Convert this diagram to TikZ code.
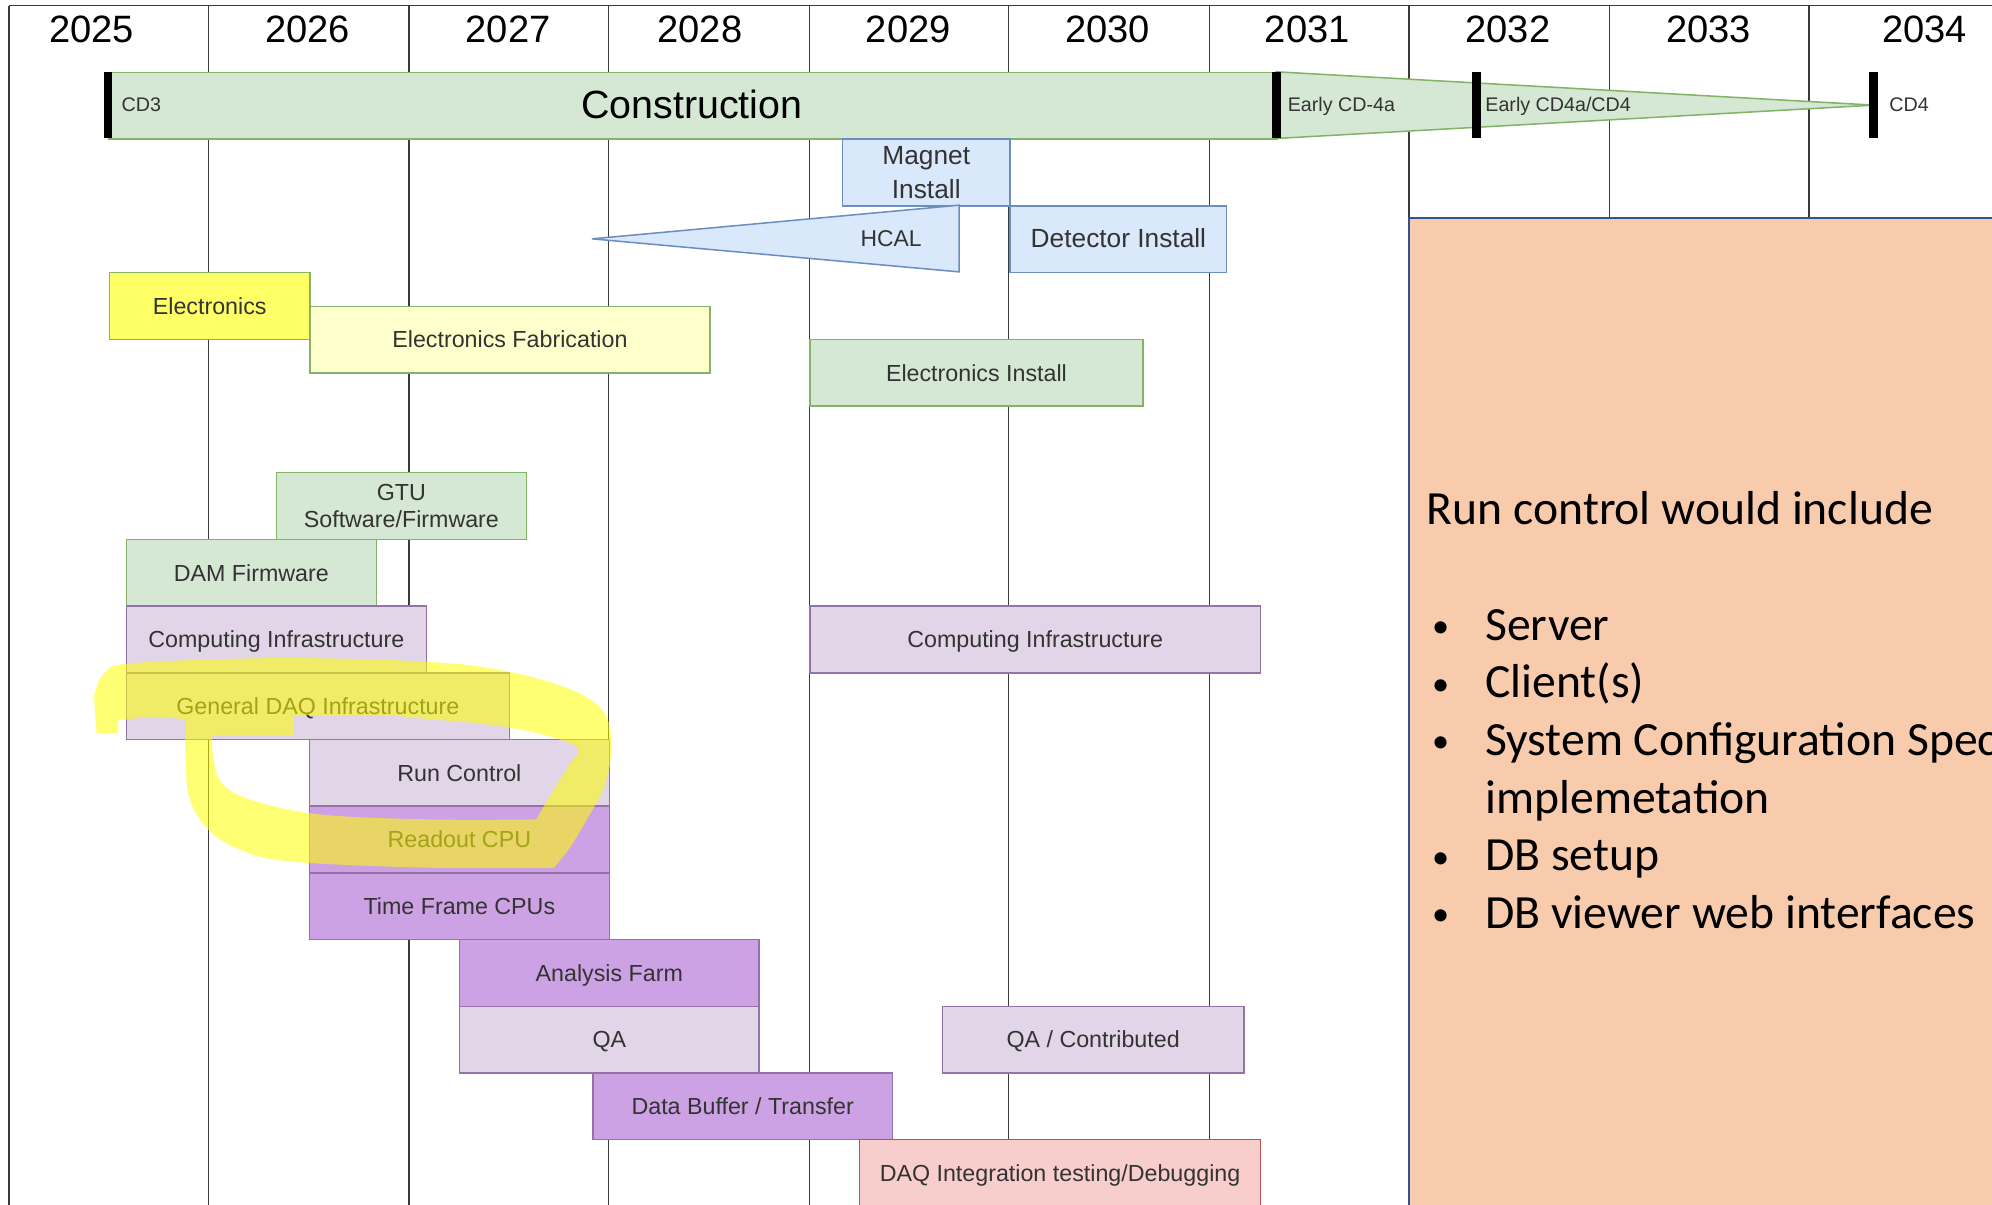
\documentclass[tikz,border=0pt]{standalone}
\usepackage{fontspec}
\setmainfont{Liberation Sans}
\newfontfamily\calfont{Carlito}
\definecolor{grnF}{HTML}{D5E8D4}
\definecolor{grnD}{HTML}{82B366}
\definecolor{bluF}{HTML}{DAE8FC}
\definecolor{bluD}{HTML}{6C8EBF}
\definecolor{yelF}{HTML}{FFFF66}
\definecolor{ylwF}{HTML}{FFFFCC}
\definecolor{purF}{HTML}{E1D5E7}
\definecolor{purD}{HTML}{9673A6}
\definecolor{vioF}{HTML}{CDA2E4}
\definecolor{redF}{HTML}{F8CECC}
\definecolor{redD}{HTML}{B85450}
\definecolor{orgF}{HTML}{F8CBAD}
\definecolor{orgD}{HTML}{2F5597}
\definecolor{txt}{HTML}{333333}
\definecolor{gridc}{HTML}{3A3A3A}
\definecolor{hlc}{HTML}{FFFF00}
\tikzset{
  boxbase/.style={draw, rectangle, anchor=north west, inner sep=0pt, line width=1.2pt,
    text=txt, align=center, font=\fontsize{18.3}{21}\selectfont, minimum height=52.5pt},
  task/.style={boxbase, text height=17.7pt, text depth=4.6pt},
  greenbox/.style={fill=grnF, draw=grnD},
  bluebox/.style={fill=bluF, draw=bluD},
  yelbox/.style={fill=yelF, draw=grnD},
  ylwbox/.style={fill=ylwF, draw=grnD},
  purbox/.style={fill=purF, draw=purD},
  viobox/.style={fill=vioF, draw=purD},
  redbox/.style={fill=redF, draw=redD},
  gridline/.style={draw=gridc, line width=1.1pt},
  yearlbl/.style={anchor=base, inner sep=0pt, text=black, font=\fontsize{30}{36}\selectfont},
  mslbl/.style={anchor=base west, inner sep=0pt, text=txt, font=\fontsize{15.5}{18}\selectfont},
  msmark/.style={fill=black, inner sep=0pt, minimum width=7pt, minimum height=52.5pt},
  notetxt/.style={anchor=base west, inner sep=0pt, text=black, font=\calfont\fontsize{37.5}{45}\selectfont},
  notebul/.style={anchor=base west, inner sep=0pt, text=black, font=\calfont\fontsize{27}{32}\selectfont},
  hl/.style={fill=hlc, fill opacity=0.55, even odd rule}
}
\begin{document}
\begin{tikzpicture}[x=1pt,y=-1pt]
\useasboundingbox (0,0) rectangle (1568,948.5);
\clip (0,0) rectangle (1568,948.5);
\fill[white] (0,0) rectangle (1568,948.5);
% grid
\draw[gridline] (7,4.5) -- (1568,4.5);
\draw[gridline] (7,4.5) -- (7,949);
\foreach \gx in {164,322,479,637,794,952,1109,1267,1424}{
  \draw[gridline] (\gx,4.5) -- (\gx,949);
}
% years
\node[yearlbl] (y2025) at (72,33.5) {2025};
\node[yearlbl] (y2026) at (242,33.5) {2026};
\node[yearlbl] (y2027) at (400,33.5) {2027};
\node[yearlbl] (y2028) at (551,33.5) {2028};
\node[yearlbl] (y2029) at (715,33.5) {2029};
\node[yearlbl] (y2030) at (872,33.5) {2030};
\node[yearlbl] (y2031) at (1029,33.5) {2031};
\node[yearlbl] (y2032) at (1187,33.5) {2032};
\node[yearlbl] (y2033) at (1345,33.5) {2033};
\node[yearlbl] (y2034) at (1515,33.5) {2034};
% construction bar
\node[boxbase, greenbox, minimum width=919.5pt] (constr) at (85,56.5) {};
\path[fill=grnF, draw=grnD, line width=1.2pt] (1004.5,56.5) -- (1475,82.75) -- (1004.5,109) -- cycle;
\node[msmark] (mcd3) at (85,82.75) {};
\node[msmark] (mcd4a) at (1004.5,82.75) {};
\node[msmark] (mcd4b) at (1162,82.75) {};
\node[msmark] (mcd4) at (1475,82.75) {};
\node[anchor=base, inner sep=0pt, text=black, font=\fontsize{31}{36}\selectfont] (constrlbl) at (544.5,93) {Construction};
\node[mslbl] (lcd3) at (95.5,87.5) {CD3};
\node[mslbl] (lcd4a) at (1013.5,87.5) {Early CD-4a};
\node[mslbl] (lcd4b) at (1169,87.5) {Early CD4a/CD4};
\node[mslbl] (lcd4) at (1487,87.5) {CD4};
% detector rows
\node[boxbase, bluebox, minimum width=132pt, font=\fontsize{20.7}{26}\selectfont] (magnet) at (662.5,109) {Magnet\\Install};
\path[fill=bluF, draw=bluD, line width=1.2pt] (755,161.5) -- (755,214) -- (466,188) -- cycle;
\node[anchor=base, inner sep=0pt, text=txt, font=\fontsize{18}{21}\selectfont] (hcal) at (701.5,194.4) {HCAL};
\node[task, bluebox, minimum width=170.5pt, font=\fontsize{20.7}{25}\selectfont] (detinst) at (794.5,161.5) {Detector Install};
% electronics
\node[task, yelbox, minimum width=158pt] (elec) at (85.5,214) {Electronics};
\node[task, ylwbox, minimum width=314.8pt] (elecfab) at (243.4,240.5) {Electronics Fabrication};
\node[task, greenbox, minimum width=262pt] (elecinst) at (637,266.5) {Electronics Install};
\node[boxbase, greenbox, minimum width=196.7pt] (gtu) at (217,371.5) {GTU\\Software/Firmware};
\node[task, greenbox, minimum width=196.8pt] (dam) at (98.8,424) {DAM Firmware};
% computing
\node[task, purbox, minimum width=236.2pt] (compl) at (98.8,476.5) {Computing Infrastructure};
\node[task, purbox, minimum width=354.6pt] (compr) at (637,476.5) {Computing Infrastructure};
\node[task, purbox, minimum width=301.6pt] (gendaq) at (98.8,529) {General DAQ Infrastructure};
\node[task, purbox, minimum width=236pt] (runctl) at (243,581.5) {Run Control};
\node[task, viobox, minimum width=236pt] (readout) at (243,634) {Readout CPU};
\node[task, viobox, minimum width=236pt] (tfcpu) at (243,686.5) {Time Frame CPUs};
\node[task, viobox, minimum width=236pt] (afarm) at (361,739) {Analysis Farm};
\node[task, purbox, minimum width=236pt] (qa) at (361,791.5) {QA};
\node[task, purbox, minimum width=237.1pt] (qacon) at (741.3,791.5) {QA / Contributed};
\node[task, viobox, minimum width=236pt] (dbuf) at (466,844) {Data Buffer / Transfer};
\node[task, redbox, minimum width=315.6pt] (daqint) at (676,896.5) {DAQ Integration testing/Debugging};
% note box
\node[draw=orgD, fill=orgF, line width=1.5pt, anchor=north west, inner sep=0pt,
  minimum width=520pt, minimum height=820pt] (notebox) at (1108,171) {};
\node[notetxt] (nhead) at (1123,413) {Run control would include};
\node[notebul] (nb1) at (1127,501.8) {•};
\node[notetxt] (nt1) at (1169,503.8) {Server};
\node[notebul] (nb2) at (1127,547.2) {•};
\node[notetxt] (nt2) at (1169,549.2) {Client(s)};
\node[notebul] (nb3) at (1127,592.6) {•};
\node[notetxt] (nt3) at (1169,594.6) {System Configuration Spec};
\node[notetxt] (nt3b) at (1169,640) {implemetation};
\node[notebul] (nb4) at (1127,683.4) {•};
\node[notetxt] (nt4) at (1169,685.4) {DB setup};
\node[notebul] (nb5) at (1127,728.8) {•};
\node[notetxt] (nt5) at (1169,730.8) {DB viewer web interfaces};
% highlighter
\path[hl] (76,577) -- (74,548)
  -- plot[smooth, tension=0.6] coordinates {(74,548) (82,530) (105,522) (222,518) (338,521) (397,528) (442,540) (468,553) (479,568) (481,592) (476,618) (462,645) (448,668) (436,683)}
  -- plot[smooth, tension=0.6] coordinates {(436,683) (338,683) (228,678) (187,668) (163,652) (149,628) (146,595) (146,566)}
  -- (120,564) -- (93,567) -- (93,577) -- cycle
  (231,579) -- (231,563)
  -- plot[smooth, tension=0.6] coordinates {(231,563) (300,563) (338,566) (390,571) (430,579) (455,589) (448,602) (435,623) (422,645)}
  -- plot[smooth, tension=0.6] coordinates {(422,645) (338,645) (251,641) (199,630) (175,617) (168,597) (167,579)}
  -- cycle;
\end{tikzpicture}
\end{document}
